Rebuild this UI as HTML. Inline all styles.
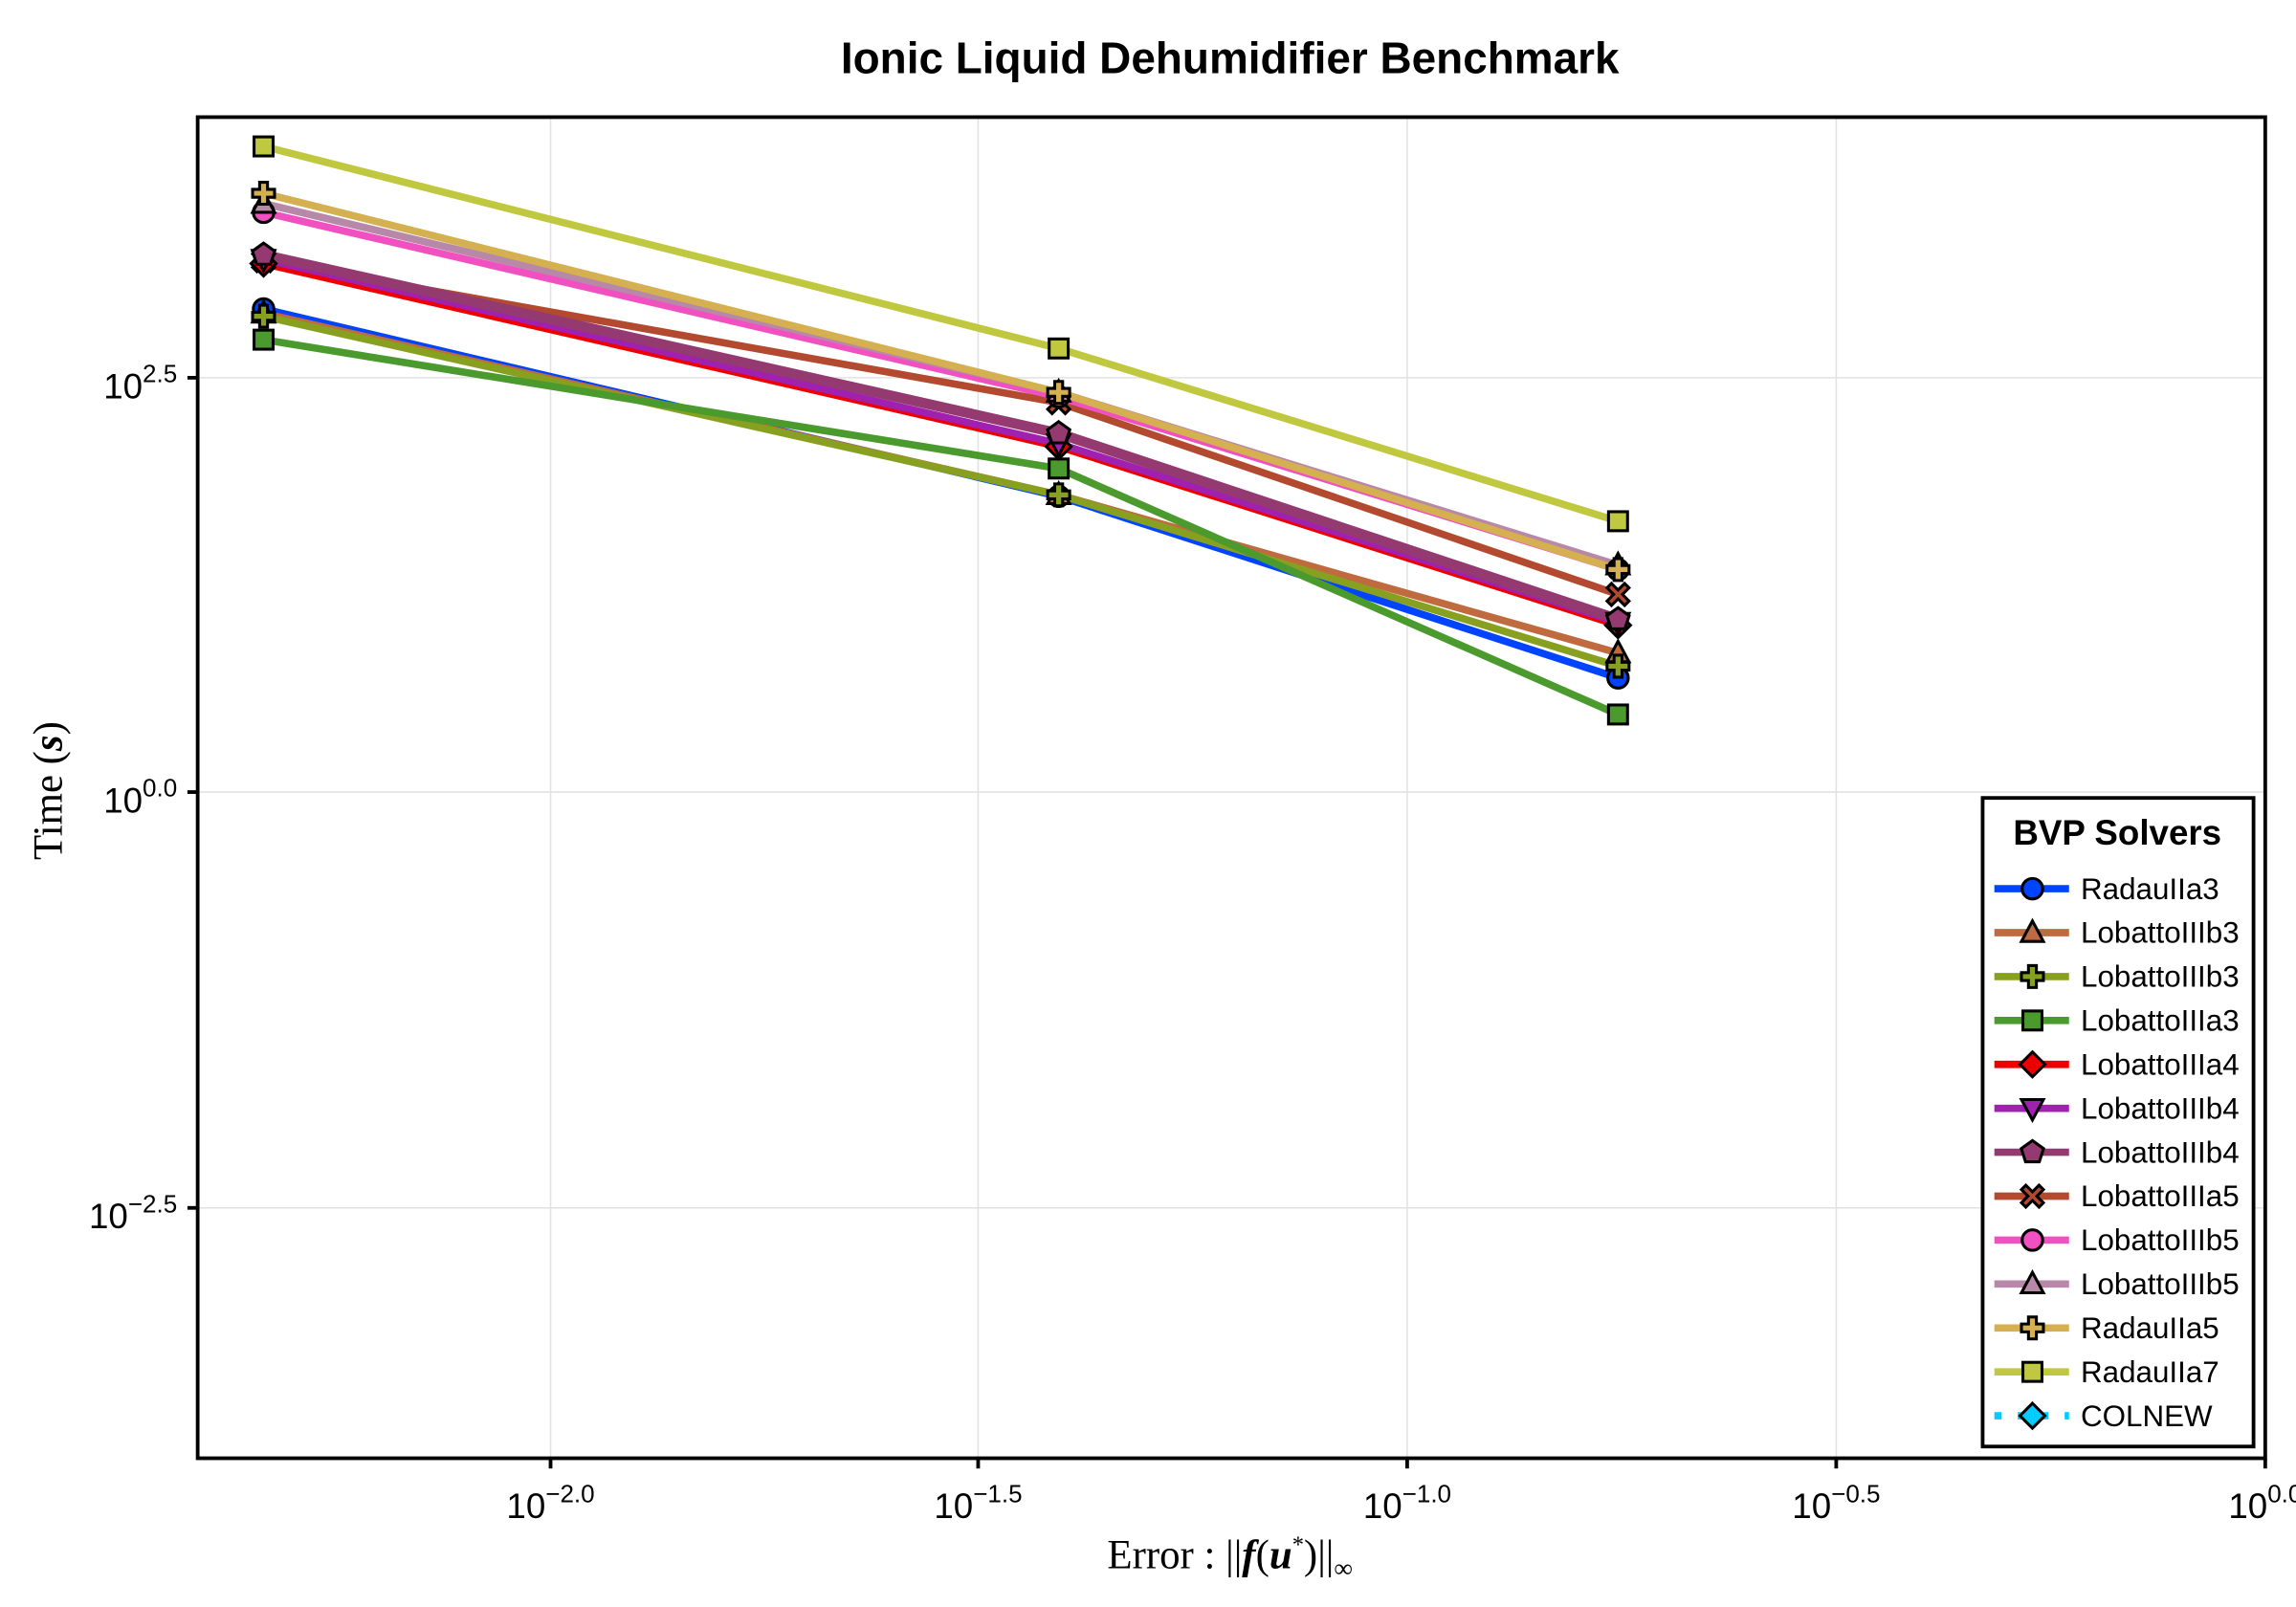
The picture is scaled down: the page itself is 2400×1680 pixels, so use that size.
<!DOCTYPE html>
<html><head><style>html,body{margin:0;padding:0;background:#fff}svg{display:block}</style></head>
<body>
<svg width="2400" height="1680" viewBox="0 0 1568 1097.6" xmlns="http://www.w3.org/2000/svg" font-family="Liberation Sans, sans-serif">
<defs>
<g id="mc"><circle r="7" fill="currentColor" stroke="#000" stroke-width="2"/></g>
<g id="mt"><polygon points="0,-8 7.5,6 -7.5,6" fill="currentColor" stroke="#000" stroke-width="2"/></g>
<g id="mv"><polygon points="0,8 7.5,-6 -7.5,-6" fill="currentColor" stroke="#000" stroke-width="2"/></g>
<g id="mp"><polygon points="-2.7,-7.5 2.7,-7.5 2.7,-2.7 7.5,-2.7 7.5,2.7 2.7,2.7 2.7,7.5 -2.7,7.5 -2.7,2.7 -7.5,2.7 -7.5,-2.7 -2.7,-2.7" fill="currentColor" stroke="#000" stroke-width="2"/></g>
<g id="ms"><rect x="-6.5" y="-6.5" width="13" height="13" fill="currentColor" stroke="#000" stroke-width="2"/></g>
<g id="md"><polygon points="0,-8.5 8.5,0 0,8.5 -8.5,0" fill="currentColor" stroke="#000" stroke-width="2"/></g>
<g id="mg"><polygon points="0,-8 7.6,-2.5 4.7,6.5 -4.7,6.5 -7.6,-2.5" fill="currentColor" stroke="#000" stroke-width="2"/></g>
<g id="mx"><polygon points="-4.5,-7.5 0,-3 4.5,-7.5 7.5,-4.5 3,0 7.5,4.5 4.5,7.5 0,3 -4.5,7.5 -7.5,4.5 -3,0 -7.5,-4.5" fill="currentColor" stroke="#000" stroke-width="2"/></g>
</defs>
<rect width="1568" height="1097.6" fill="#fff"/>
<text x="840" y="50" font-size="30" font-weight="bold" text-anchor="middle">Ionic Liquid Dehumidifier Benchmark</text>
<g stroke="#e2e2e2" stroke-width="1">
<line x1="376" y1="80" x2="376" y2="996"/><line x1="668" y1="80" x2="668" y2="996"/>
<line x1="961" y1="80" x2="961" y2="996"/><line x1="1254" y1="80" x2="1254" y2="996"/>
<line x1="135" y1="258" x2="1547" y2="258"/><line x1="135" y1="541" x2="1547" y2="541"/><line x1="135" y1="825" x2="1547" y2="825"/>
</g>
<g fill="none" stroke-width="5" stroke-linejoin="round">
<polyline stroke="#0044ff" points="180,211 723,339 1105,463"/>
<polyline stroke="#c06a40" points="180,214 723,338 1105,446"/>
<polyline stroke="#88a020" points="180,216 723,338 1105,455"/>
<polyline stroke="#4a9a2e" points="180,232 723,320 1105,488"/>
<polyline stroke="#b34a30" points="180,178 723,275 1105,406"/>
<polyline stroke="#ee0000" points="180,180 723,305 1105,427"/>
<polyline stroke="#a020b0" points="180,177 723,303 1105,425"/>
<polyline stroke="#943a70" stroke-width="7" points="180,174 723,296 1105,423"/>
<polyline stroke="#f050c0" points="180,145 723,271 1105,389"/>
<polyline stroke="#b888a8" points="180,139 723,268 1105,386"/>
<polyline stroke="#d4b050" points="180,132 723,268 1105,389"/>
<polyline stroke="#c0c840" points="180,100 723,238 1105,356"/>
</g>
<g>
<use href="#mc" color="#0044ff" x="180" y="211"/><use href="#mc" color="#0044ff" x="723" y="339"/><use href="#mc" color="#0044ff" x="1105" y="463"/>
<use href="#mt" color="#c06a40" x="180" y="214"/><use href="#mt" color="#c06a40" x="723" y="338"/><use href="#mt" color="#c06a40" x="1105" y="446"/>
<use href="#mp" color="#88a020" x="180" y="216"/><use href="#mp" color="#88a020" x="723" y="338"/><use href="#mp" color="#88a020" x="1105" y="455"/>
<use href="#ms" color="#4a9a2e" x="180" y="232"/><use href="#ms" color="#4a9a2e" x="723" y="320"/><use href="#ms" color="#4a9a2e" x="1105" y="488"/>
<use href="#mx" color="#b34a30" x="180" y="178"/><use href="#mx" color="#b34a30" x="723" y="275"/><use href="#mx" color="#b34a30" x="1105" y="406"/>
<use href="#md" color="#ee0000" x="180" y="180"/><use href="#md" color="#ee0000" x="723" y="305"/><use href="#md" color="#ee0000" x="1105" y="427"/>
<use href="#mv" color="#a020b0" x="180" y="177"/><use href="#mv" color="#a020b0" x="723" y="303"/><use href="#mv" color="#a020b0" x="1105" y="425"/>
<use href="#mg" color="#943a70" x="180" y="174"/><use href="#mg" color="#943a70" x="723" y="296"/><use href="#mg" color="#943a70" x="1105" y="423"/>
<use href="#mc" color="#f050c0" x="180" y="145"/><use href="#mc" color="#f050c0" x="723" y="271"/><use href="#mc" color="#f050c0" x="1105" y="389"/>
<use href="#mt" color="#b888a8" x="180" y="139"/><use href="#mt" color="#b888a8" x="723" y="268"/><use href="#mt" color="#b888a8" x="1105" y="386"/>
<use href="#mp" color="#d4b050" x="180" y="132"/><use href="#mp" color="#d4b050" x="723" y="268"/><use href="#mp" color="#d4b050" x="1105" y="389"/>
<use href="#ms" color="#c0c840" x="180" y="100"/><use href="#ms" color="#c0c840" x="723" y="238"/><use href="#ms" color="#c0c840" x="1105" y="356"/>
</g>
<rect x="135" y="80" width="1412" height="916" fill="none" stroke="#000" stroke-width="2.5"/>
<g stroke="#000" stroke-width="2.5">
<line x1="376" y1="996" x2="376" y2="1003"/><line x1="668" y1="996" x2="668" y2="1003"/>
<line x1="961" y1="996" x2="961" y2="1003"/><line x1="1254" y1="996" x2="1254" y2="1003"/><line x1="1547" y1="996" x2="1547" y2="1003"/>
<line x1="128" y1="258" x2="135" y2="258"/><line x1="128" y1="541" x2="135" y2="541"/><line x1="128" y1="825" x2="135" y2="825"/>
</g>
<g font-size="24">
<text x="376" y="1037" text-anchor="middle">10<tspan font-size="17" dy="-11">−2.0</tspan></text>
<text x="668" y="1037" text-anchor="middle">10<tspan font-size="17" dy="-11">−1.5</tspan></text>
<text x="961" y="1037" text-anchor="middle">10<tspan font-size="17" dy="-11">−1.0</tspan></text>
<text x="1254" y="1037" text-anchor="middle">10<tspan font-size="17" dy="-11">−0.5</tspan></text>
<text x="1547" y="1037" text-anchor="middle">10<tspan font-size="17" dy="-11">0.0</tspan></text>
<text x="121" y="272" text-anchor="end">10<tspan font-size="17" dy="-11">2.5</tspan></text>
<text x="121" y="555" text-anchor="end">10<tspan font-size="17" dy="-11">0.0</tspan></text>
<text x="121" y="839" text-anchor="end">10<tspan font-size="17" dy="-11">−2.5</tspan></text>
</g>
<text x="840" y="1071" font-size="28" text-anchor="middle" font-family="Liberation Serif, serif">Error :  ||<tspan font-style="italic" font-weight="bold">f</tspan>(<tspan font-style="italic" font-weight="bold">u</tspan><tspan font-size="16" dy="-11">*</tspan><tspan dy="11">)||</tspan><tspan font-size="18" dy="6">∞</tspan></text>
<text transform="translate(42,540) rotate(-90)" font-size="28" text-anchor="middle" font-family="Liberation Serif, serif">Time (<tspan font-style="italic" font-weight="bold">s</tspan>)</text>
<rect x="1354" y="545" width="185" height="443" fill="#fff" stroke="#000" stroke-width="2.5"/>
<text x="1446" y="577" font-size="24" font-weight="bold" text-anchor="middle">BVP Solvers</text>
<g stroke-width="5">
<line x1="1362" y1="607" x2="1413" y2="607" stroke="#0044ff"/>
<line x1="1362" y1="637" x2="1413" y2="637" stroke="#c06a40"/>
<line x1="1362" y1="667" x2="1413" y2="667" stroke="#88a020"/>
<line x1="1362" y1="697" x2="1413" y2="697" stroke="#4a9a2e"/>
<line x1="1362" y1="727" x2="1413" y2="727" stroke="#ee0000"/>
<line x1="1362" y1="757" x2="1413" y2="757" stroke="#a020b0"/>
<line x1="1362" y1="787" x2="1413" y2="787" stroke="#943a70"/>
<line x1="1362" y1="817" x2="1413" y2="817" stroke="#b34a30"/>
<line x1="1362" y1="847" x2="1413" y2="847" stroke="#f050c0"/>
<line x1="1362" y1="877" x2="1413" y2="877" stroke="#b888a8"/>
<line x1="1362" y1="907" x2="1413" y2="907" stroke="#d4b050"/>
<line x1="1362" y1="937" x2="1413" y2="937" stroke="#c0c840"/>
<line x1="1362" y1="967" x2="1413" y2="967" stroke="#00ccff" stroke-dasharray="5,11"/>
</g>
<use href="#mc" color="#0044ff" x="1388" y="607"/>
<use href="#mt" color="#c06a40" x="1388" y="637"/>
<use href="#mp" color="#88a020" x="1388" y="667"/>
<use href="#ms" color="#4a9a2e" x="1388" y="697"/>
<use href="#md" color="#ee0000" x="1388" y="727"/>
<use href="#mv" color="#a020b0" x="1388" y="757"/>
<use href="#mg" color="#943a70" x="1388" y="787"/>
<use href="#mx" color="#b34a30" x="1388" y="817"/>
<use href="#mc" color="#f050c0" x="1388" y="847"/>
<use href="#mt" color="#b888a8" x="1388" y="877"/>
<use href="#mp" color="#d4b050" x="1388" y="907"/>
<use href="#ms" color="#c0c840" x="1388" y="937"/>
<use href="#md" color="#00ccff" x="1388" y="967"/>
<g font-size="20.5">
<text x="1421" y="614">RadauIIa3</text>
<text x="1421" y="644">LobattoIIIb3</text>
<text x="1421" y="674">LobattoIIIb3</text>
<text x="1421" y="704">LobattoIIIa3</text>
<text x="1421" y="734">LobattoIIIa4</text>
<text x="1421" y="764">LobattoIIIb4</text>
<text x="1421" y="794">LobattoIIIb4</text>
<text x="1421" y="824">LobattoIIIa5</text>
<text x="1421" y="854">LobattoIIIb5</text>
<text x="1421" y="884">LobattoIIIb5</text>
<text x="1421" y="914">RadauIIa5</text>
<text x="1421" y="944">RadauIIa7</text>
<text x="1421" y="974">COLNEW</text>
</g>
</svg>
</body></html>
